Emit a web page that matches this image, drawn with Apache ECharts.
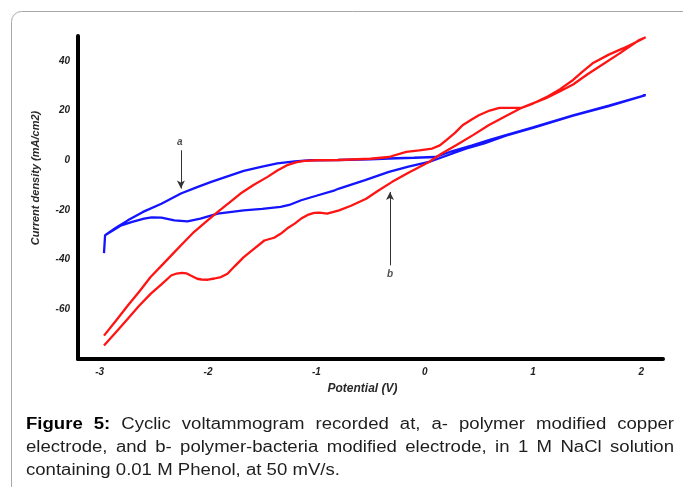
<!DOCTYPE html>
<html>
<head>
    <meta charset="UTF-8">
    <title>Cyclic voltammogram</title>
    <style type="text/css">
        html, body { margin: 0; padding: 0; background: #fff; }
        #mychart { width: 683px; height: 487px; }
    </style>
</head>
<body>
<div id="mychart"></div>
<script src="https://cdn.jsdelivr.net/npm/echarts@6/dist/echarts.min.js"></script>
<script>
    // curve a - polymer modified copper electrode (blue), [potential V, current mA/cm2]
    var curveA = [
        [-2.96, -37.4], [-2.95, -30.2], [-2.85, -27.2], [-2.74, -24.2], [-2.6, -20.8], [-2.43, -17.5],
        [-2.25, -13.4], [-2.1, -10.8], [-1.97, -8.7], [-1.8, -6.2], [-1.67, -4.3], [-1.5, -2.6],
        [-1.36, -1.3], [-1.2, -0.5], [-1.05, 0], [-0.8, 0.1], [-0.5, 0.4], [-0.33, 0.7],
        [-0.1, 1.0], [0.1, 1.3], [0.25, 3.6], [0.44, 6], [0.6, 8.2], [0.75, 10.1], [1.0, 13.2],
        [1.37, 18.1], [1.7, 22.0], [2.04, 26.2],
        [1.7, 21.8], [1.37, 17.9], [1.0, 13.0], [0.75, 9.9], [0.55, 6.8], [0.38, 4.7], [0.2, 1.8],
        [0.04, -0.7], [-0.15, -2.6], [-0.33, -4.7], [-0.55, -8.0], [-0.79, -11.4], [-0.83, -12.1],
        [-1.0, -14.3], [-1.14, -16.1], [-1.25, -18.0], [-1.33, -18.8], [-1.5, -19.6], [-1.67, -20.2],
        [-1.91, -21.5], [-2.07, -23.5], [-2.19, -24.6], [-2.31, -24.2], [-2.43, -23.1], [-2.52, -23.0],
        [-2.59, -23.5], [-2.7, -24.8], [-2.8, -26.2], [-2.95, -30.2]
    ];

    // curve b - polymer-bacteria modified electrode (red)
    var curveB = [
        [-2.96, -70.6], [-2.85, -64.6], [-2.74, -58.5], [-2.63, -52.6], [-2.53, -47], [-2.42, -42],
        [-2.31, -37], [-2.22, -32.9], [-2.13, -28.9], [-2.02, -24.8], [-1.91, -20.8], [-1.8, -17.0],
        [-1.7, -13.4], [-1.58, -10.0], [-1.45, -6.7], [-1.36, -4.1], [-1.27, -2.0], [-1.18, -0.8],
        [-1.11, -0.3], [-1.0, 0], [-0.8, 0.1], [-0.5, 0.6], [-0.33, 1.3], [-0.17, 3.4], [-0.05, 4.0],
        [0.07, 4.7], [0.14, 6.0], [0.2, 8.1], [0.28, 11.0], [0.35, 14.1], [0.43, 16.3], [0.5, 18.1],
        [0.6, 20.0], [0.69, 21.1], [0.9, 21.2], [1.0, 22.8], [1.12, 25.3], [1.25, 28.6], [1.37, 32.3],
        [1.46, 35.8], [1.55, 39], [1.7, 42.5], [1.83, 45], [1.95, 47.5], [2.04, 49.5],
        [1.98, 48.4], [1.8, 43.0], [1.61, 37.6], [1.5, 34.5], [1.37, 30.5], [1.25, 27.8], [1.12, 25.0],
        [0.9, 21.2], [0.75, 17.8], [0.59, 14.1], [0.45, 10.2], [0.29, 6.0], [0.15, 2.5], [0.04, -0.7],
        [-0.15, -5.0], [-0.3, -8.7], [-0.43, -12.3], [-0.54, -15.5], [-0.68, -18.3], [-0.79, -20.2],
        [-0.9, -21.5], [-0.97, -21.1], [-1.02, -21.2], [-1.08, -22.0], [-1.14, -23.5], [-1.2, -25.5],
        [-1.27, -27.5], [-1.33, -29.6], [-1.39, -31.2], [-1.48, -32.3], [-1.57, -35.5], [-1.67, -39],
        [-1.75, -42.5], [-1.82, -45.7], [-1.88, -47], [-1.94, -47.6], [-2.0, -48.1], [-2.06, -48.0],
        [-2.1, -47.7], [-2.16, -46.4], [-2.2, -45.5], [-2.24, -45.3], [-2.29, -45.6], [-2.34, -46.4],
        [-2.43, -50.0], [-2.53, -53.8], [-2.64, -58.8], [-2.74, -63.8], [-2.85, -69.2], [-2.96, -74.6]
    ];

    var xTicks = [-3, -2, -1, 0, 1, 2];
    var yTicks = [-60, -40, -20, 0, 20, 40];

    // arrows: [x, yFrom, yTo], and their letters [x, y, text]
    var arrows = [[-2.25, 4.0, -11.4], [-0.32, -42.3, -12.8]];
    var letters = [[-2.26, 7.4, 'a'], [-0.32, -45.7, 'b']];

    var captionLines = [
        'Figure 5: Cyclic voltammogram recorded at, a- polymer modified copper',
        'electrode, and b- polymer-bacteria modified electrode, in 1 M NaCl solution',
        'containing 0.01 M Phenol, at 50 mV/s.'
    ];

    var labelFont = {fontFamily: 'Liberation Sans', fontWeight: 'bold', fontStyle: 'italic', fontSize: 10, color: '#222'};

    // caption laid out word by word so the first two lines are justified
    var capSize = 16, capScale = 1.16, capLeft = 26, capRight = 674;
    var capCenters = [425, 448, 471];
    var ctx = document.createElement('canvas').getContext('2d');
    var caption = [];
    for (var l = 0; l < captionLines.length; l++) {
        var words = captionLines[l].split(' ');
        var widths = [], fonts = [], total = 0;
        for (var w = 0; w < words.length; w++) {
            var bold = (l == 0 && w < 2);
            fonts[w] = (bold ? 'bold ' : '') + capSize + 'px "Liberation Sans"';
            ctx.font = fonts[w];
            widths[w] = ctx.measureText(words[w]).width * capScale;
            total += widths[w];
        }
        var gap = (l < 2) ? (capRight - capLeft - total) / (words.length - 1) : capSize * 0.28 * capScale;
        var xp = capLeft;
        for (w = 0; w < words.length; w++) {
            caption.push({
                type: 'text', x: xp, y: capCenters[l], scaleX: capScale, silent: true,
                style: {text: words[w], font: fonts[w], fill: (l == 0 && w < 2) ? '#000' : '#1e1e1e', verticalAlign: 'middle'}
            });
            xp += widths[w] + gap;
        }
    }

    var myChart = echarts.init(document.getElementById('mychart'), null, {renderer: 'canvas'});

    var option = {
        animation: false,
        backgroundColor: '#fff',
        grid: {left: 78, right: 20, top: 36, bottom: 128, containLabel: false, outerBoundsMode: 'none'},
        xAxis: {
            type: 'value', min: -3.2, max: 2.2,
            name: 'Potential (V)', nameLocation: 'middle', nameGap: 24,
            nameTextStyle: {fontFamily: 'Liberation Sans', fontWeight: 'bold', fontStyle: 'italic', fontSize: 12, color: '#2a2a2a', padding: [0, 16, 0, 0]},
            axisLine: {onZero: false, lineStyle: {color: '#000', width: 4}},
            axisTick: {show: false},
            splitLine: {show: false},
            axisLabel: Object.assign({margin: 8, customValues: xTicks, formatter: function (v) {
                return xTicks.indexOf(v) >= 0 ? String(v) : '';
            }}, labelFont)
        },
        yAxis: {
            type: 'value', min: -80, max: 50,
            name: 'Current density (mA/cm2)', nameLocation: 'middle', nameGap: 37, nameRotate: 90,
            nameTextStyle: {fontFamily: 'Liberation Sans', fontWeight: 'bold', fontStyle: 'italic', fontSize: 11, color: '#2a2a2a', padding: [0, 0, 0, 39]},
            axisLine: {onZero: false, lineStyle: {color: '#000', width: 4}},
            axisTick: {show: false},
            splitLine: {show: false},
            axisLabel: Object.assign({margin: 8, customValues: yTicks, formatter: function (v) {
                return yTicks.indexOf(v) >= 0 ? String(v) : '';
            }}, labelFont)
        },
        series: [
            {
                name: 'a', type: 'line', data: curveA, showSymbol: false, symbol: 'none',
                lineStyle: {color: '#1414ff', width: 2.3}, z: 3
            },
            {
                name: 'b', type: 'line', data: curveB, showSymbol: false, symbol: 'none',
                lineStyle: {color: '#ff1414', width: 2.3}, z: 4
            },
            {
                name: 'notes', type: 'scatter', symbolSize: 0, data: letters, z: 5,
                label: {show: true, position: 'inside', formatter: function (p) { return p.value[2]; },
                    fontFamily: 'Liberation Sans', fontWeight: 'bold', fontStyle: 'italic', fontSize: 10, color: '#222'},
                markLine: {
                    silent: true, symbol: ['none', 'arrow'], symbolSize: [6, 8],
                    label: {show: false},
                    lineStyle: {color: '#333', width: 1, type: 'solid'},
                    data: arrows.map(function (a) {
                        return [{coord: [a[0], a[1]]}, {coord: [a[0], a[2]]}];
                    })
                }
            }
        ],
        graphic: [
            {
                type: 'rect', silent: true, z: -1,
                shape: {x: 11.5, y: 11.5, width: 720, height: 520, r: 10},
                style: {fill: 'none', stroke: '#a8a8a8', lineWidth: 1}
            }
        ].concat(caption)
    };

    myChart.setOption(option);
</script>
</body>
</html>
